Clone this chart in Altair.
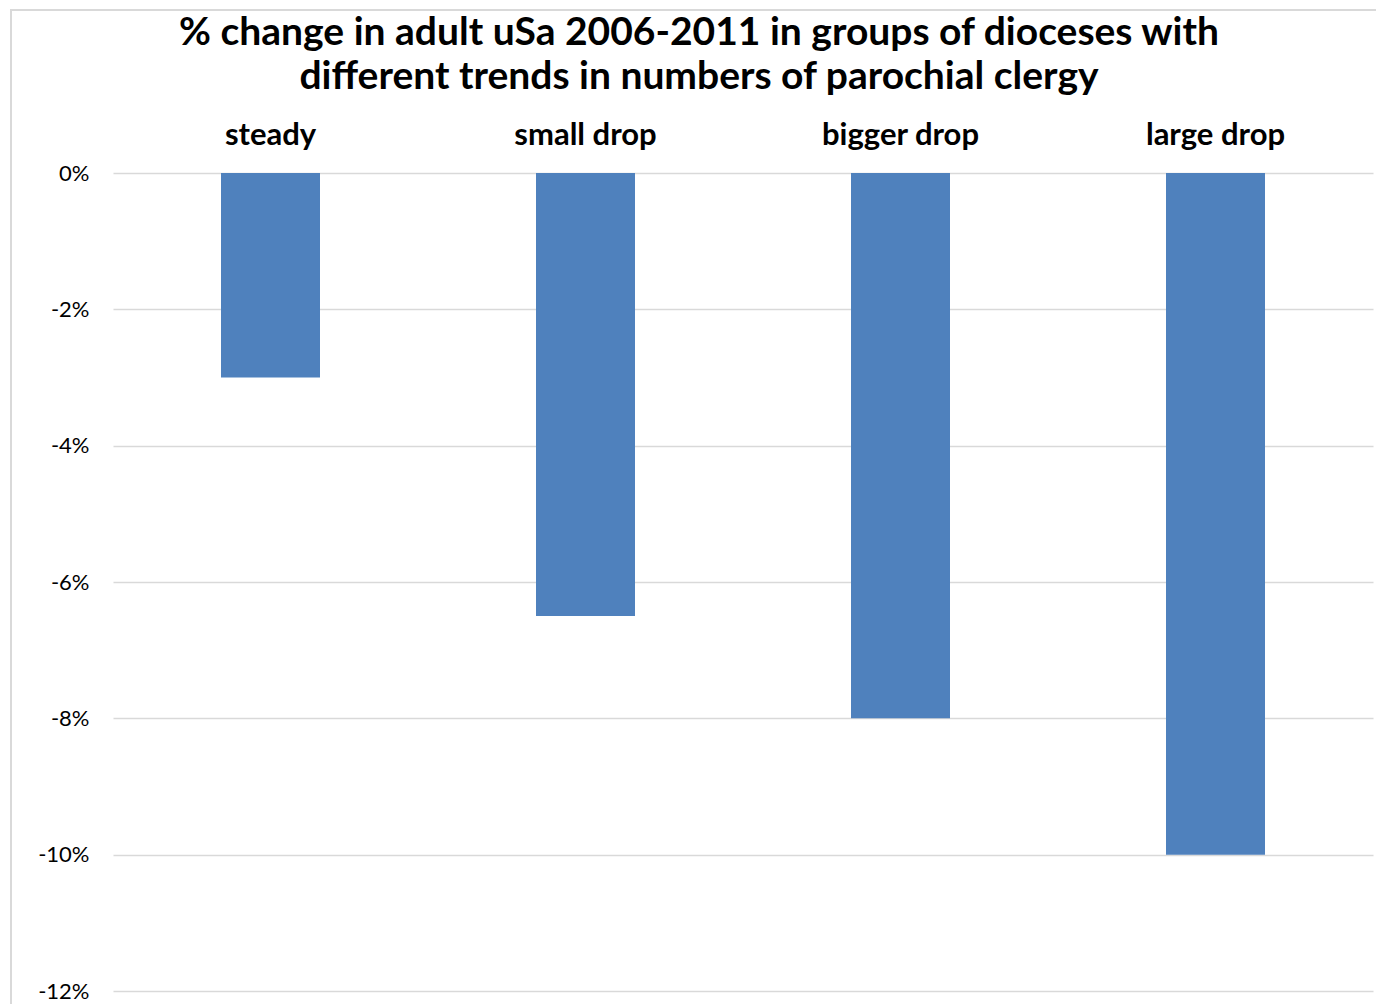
import altair as alt
import pandas as pd

categories = ["steady", "small drop", "bigger drop", "large drop"]
values = [-3.0, -6.5, -8.0, -10.0]

df = pd.DataFrame({"group": categories, "change": values})

FONT = "Lato"

bars = alt.Chart(df).mark_bar(size=99, color="#4f81bd").encode(
    x=alt.X("group:N", sort=categories, title=None,
            scale=alt.Scale(paddingInner=0, paddingOuter=0),
            axis=alt.Axis(orient="top", labelAngle=0, labelFont=FONT, labelFontSize=31,
                          labelFontWeight="bold", labelColor="#000000", labelPadding=22,
                          ticks=False, domain=False, grid=False)),
    y=alt.Y("change:Q", title=None,
            scale=alt.Scale(domain=[-12, 0], nice=False),
            axis=alt.Axis(values=[0, -2, -4, -6, -8, -10, -12], labelExpr="datum.value + '%'",
                          labelFont=FONT, labelFontSize=22, labelColor="#000000",
                          labelPadding=24, ticks=False, domain=False,
                          gridColor="#d9d9d9", gridWidth=1.3)),
)

border = alt.Chart(df).mark_rect(fill=None, stroke="#d9d9d9", strokeWidth=2, clip=False).encode(
    x=alt.value(-102), x2=alt.value(1300), y=alt.value(-163), y2=alt.value(900)
)

chart = alt.layer(border, bars).properties(
    width=1260,
    height=818,
    background="#ffffff",
    padding={"left": 113, "top": 173, "right": 3, "bottom": 13},
    autosize=alt.AutoSizeParams(type="none"),
    title=alt.TitleParams(
        text=["% change in adult uSa 2006-2011 in groups of dioceses with",
              "different trends in numbers of parochial clergy"],
        font=FONT, fontSize=39, fontWeight="bold", color="#000000",
        anchor="middle", dx=-44, offset=0, lineHeight=44, baseline="alphabetic",
        dy=119,
    ),
).configure_view(stroke="transparent", strokeWidth=0)

chart.save("out.html", embed_options={"renderer": "svg", "actions": False})
